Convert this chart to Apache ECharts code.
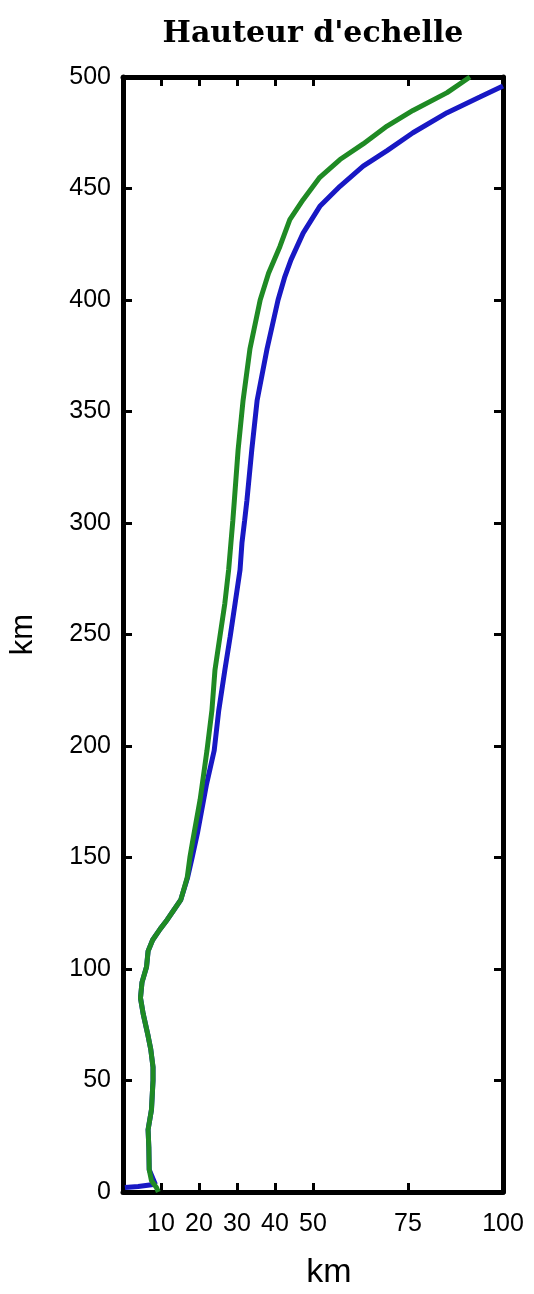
<!DOCTYPE html>
<html>
<head>
<meta charset="utf-8">
<script src="https://cdn.jsdelivr.net/npm/echarts@6/dist/echarts.min.js"></script>
<style>html,body{margin:0;padding:0;background:#fff}#c{width:534px;height:1294px}</style>
</head>
<body>
<div id="c"></div>
<script>
const titleText = "Hauteur d'echelle";
const xName = "km";
const yName = "km";
const xTickValues = [10, 20, 30, 40, 50, 75];
const xLabelValues = [10, 20, 30, 40, 50, 75, 100];
const yTickInterval = 50;

const greenAlt = [0, 2, 5, 10, 20, 28, 37, 50, 56, 64, 70, 80, 87, 94, 101, 108, 113, 118, 122, 126, 131, 141, 150, 158, 176, 198, 216, 234, 249, 264, 279, 291, 301, 310, 333, 355, 378, 400, 412, 424, 436, 445, 455, 463, 470, 478, 485, 493, 500];
const greenH   = [9.3, 8.8, 7.5, 6.9, 6.8, 6.6, 7.5, 7.9, 7.9, 7.3, 6.6, 5.3, 4.6, 5.0, 6.2, 6.6, 7.8, 9.8, 11.6, 13.2, 15.2, 16.9, 17.6, 18.4, 20.3, 22.1, 23.4, 24.2, 25.5, 26.8, 27.8, 28.4, 28.9, 29.3, 30.3, 31.6, 33.4, 36.1, 38.3, 41.3, 43.9, 47.4, 51.8, 57.1, 63.2, 69.5, 76.3, 85.3, 91.3];

const blueAlt = [2, 2.5, 3.5, 10, 20, 28, 37, 50, 56, 64, 70, 80, 87, 94, 101, 108, 113, 118, 122, 126, 131, 141, 150, 161, 183, 198, 216, 234, 249, 264, 279, 291, 301, 310, 333, 355, 378, 400, 410, 418, 430, 442, 451, 460, 467, 475, 484, 491, 496];
const blueH   = [0.5, 4.0, 8.5, 6.9, 6.8, 6.6, 7.5, 7.9, 7.9, 7.3, 6.6, 5.3, 4.6, 5.0, 6.2, 6.6, 7.8, 9.8, 11.6, 13.2, 15.2, 17.0, 18.2, 19.6, 22.0, 24.0, 25.2, 26.8, 28.2, 29.5, 30.8, 31.3, 32.0, 32.6, 33.9, 35.3, 37.9, 40.8, 42.5, 44.2, 47.4, 51.8, 57.1, 63.2, 69.5, 76.3, 85.3, 93.9, 100];

const toPairs = (xs, ys) => xs.map((v, i) => [v, ys[i]]);

const chart = echarts.init(document.getElementById('c'), null, {renderer: 'canvas'});
const axisLine = {show: true, onZero: false, lineStyle: {color: '#000', width: 5}};
const labelFont = {fontFamily: 'Liberation Sans', fontSize: 25, color: '#000'};

chart.setOption({
  backgroundColor: '#fff',
  animation: false,
  grid: {left: 123, right: 31, top: 77, bottom: 102, containLabel: false},
  graphic: [
    {type: 'text', x: 313, y: 34, style: {text: titleText, font: 'bold 30px "DejaVu Serif"', fill: '#000', textAlign: 'center', textVerticalAlign: 'middle'}},
    {type: 'text', x: 329, y: 1273, style: {text: xName, font: '34px "Liberation Sans"', fill: '#000', textAlign: 'center', textVerticalAlign: 'middle'}}
  ],
  xAxis: [
    {type: 'value', position: 'bottom', min: 0, max: 100, interval: 5,
     axisLine: axisLine,
     axisTick: {show: true, inside: true, length: 9, lineStyle: {color: '#000', width: 3}, customValues: xTickValues},
     axisLabel: Object.assign({show: true, margin: 20, customValues: xLabelValues}, labelFont),
     splitLine: {show: false}},
    {type: 'value', position: 'top', min: 0, max: 100, interval: 5,
     axisLine: axisLine,
     axisTick: {show: true, inside: true, length: 9, lineStyle: {color: '#000', width: 3}, customValues: xTickValues},
     axisLabel: {show: false},
     splitLine: {show: false}}
  ],
  yAxis: [
    {type: 'value', position: 'left', min: 0, max: 500, interval: yTickInterval,
     name: yName, nameLocation: 'middle', nameGap: 84, nameRotate: 90,
     nameTextStyle: {fontFamily: 'Liberation Sans', fontSize: 31, color: '#000'},
     axisLine: axisLine,
     axisTick: {show: true, inside: true, length: 9, lineStyle: {color: '#000', width: 3}},
     axisLabel: Object.assign({show: true, margin: 12}, labelFont),
     splitLine: {show: false}},
    {type: 'value', position: 'right', min: 0, max: 500, interval: yTickInterval,
     axisLine: axisLine,
     axisTick: {show: true, inside: true, length: 9, lineStyle: {color: '#000', width: 3}},
     axisLabel: {show: false},
     splitLine: {show: false}}
  ],
  series: [
    {type: 'line', name: 'blue', xAxisIndex: 0, yAxisIndex: 0, data: toPairs(blueH, blueAlt),
     showSymbol: false, symbol: 'none', smooth: false, clip: true,
     lineStyle: {color: '#1818c4', width: 5}, z: 2},
    {type: 'line', name: 'green', xAxisIndex: 0, yAxisIndex: 0, data: toPairs(greenH, greenAlt),
     showSymbol: false, symbol: 'none', smooth: false, clip: true,
     lineStyle: {color: '#1f8a24', width: 5}, z: 3}
  ]
});
</script>
</body>
</html>
